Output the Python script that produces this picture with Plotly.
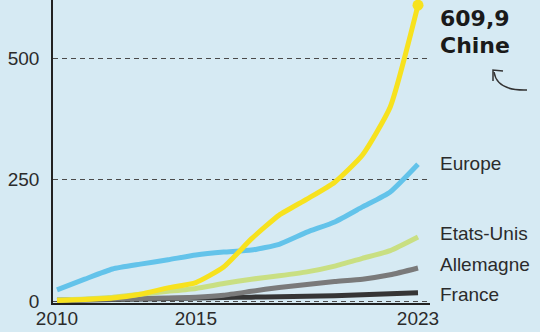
import plotly.graph_objects as go

years = list(range(2010, 2024))
chine = [1, 3, 6, 14, 27, 38, 70, 128, 177, 210, 245, 301, 400, 609.9]
europe = [23, 45, 66, 76, 85, 95, 101, 105, 117, 142, 163, 194, 225, 282]
etats_unis = [2, 4, 8, 14, 20, 26, 36, 45, 52, 60, 72, 88, 104, 132]
allemagne = [2, 3, 4, 5, 6, 8, 12, 20, 28, 34, 40, 45, 54, 68]
france = [1, 2, 3, 4, 5, 6, 7, 8, 9, 10, 11, 13, 15, 17]

series = [
    ("France", france, "#353535"),
    ("Allemagne", allemagne, "#7a7a7a"),
    ("Etats-Unis", etats_unis, "#c9df82"),
    ("Europe", europe, "#63c3ea"),
    ("Chine", chine, "#f7e21e"),
]
# label vertical positions in pixels (from top)
label_py = {"Europe": 163, "Etats-Unis": 233, "Allemagne": 264, "France": 294}

BG = "#d6eaf3"
TXT = "#2b2b2b"
FONT = "Liberation Sans"

L, R, T, B = 53, 110, 0, 29
PW, PH = 540 - L - R, 332 - T - B

def px(xp):
    return (xp - L) / PW

def py(yp):
    return (332 - B - yp) / PH

fig = go.Figure()
for name, vals, col in series:
    fig.add_trace(go.Scatter(x=years, y=vals, mode="lines", name=name,
                             line=dict(color=col, width=5, shape="spline", smoothing=0.5),
                             cliponaxis=False, hoverinfo="skip"))
fig.add_trace(go.Scatter(x=[years[-1]], y=[chine[-1]], mode="markers",
                         marker=dict(color="#f7e21e", size=11), cliponaxis=False,
                         hoverinfo="skip"))

for name, yp in label_py.items():
    fig.add_annotation(x=px(438), y=py(yp), xref="paper", yref="paper", text=name,
                       showarrow=False, xanchor="left", yanchor="middle",
                       font=dict(family=FONT, size=19, color=TXT))
fig.add_annotation(x=px(438), y=py(19), xref="paper", yref="paper", text="<b>609,9</b>",
                   showarrow=False, xanchor="left", yanchor="middle",
                   font=dict(family="DejaVu Sans", size=22, color="#1a1a1a"))
fig.add_annotation(x=px(438), y=py(45), xref="paper", yref="paper", text="<b>Chine</b>",
                   showarrow=False, xanchor="left", yanchor="middle",
                   font=dict(family="DejaVu Sans", size=22, color="#1a1a1a"))

fig.add_shape(type="path", xref="paper", yref="paper",
              path=f"M {px(494)},{py(72)} Q {px(497)},{py(91)} {px(527)},{py(90)}",
              line=dict(color="#333333", width=1.5))
fig.add_shape(type="path", xref="paper", yref="paper",
              path=f"M {px(493)},{py(81)} L {px(493)},{py(70)} L {px(503)},{py(71)}",
              line=dict(color="#333333", width=1.5))

fig.update_layout(
    width=540, height=332,
    margin=dict(l=L, r=R, t=T, b=B, autoexpand=False),
    paper_bgcolor=BG, plot_bgcolor=BG,
    showlegend=False,
    font=dict(family=FONT, color=TXT, size=19),
    xaxis=dict(range=[2009.856, 2023.432], tickvals=[2010, 2015, 2023],
               showgrid=False, zeroline=False, showline=True, linecolor="#222222",
               linewidth=1.5, ticks="", ticklabelstandoff=-3,
               tickfont=dict(size=19, color=TXT)),
    yaxis=dict(range=[-4.1, 620.6], tickvals=[0, 250, 500],
               showgrid=True, gridcolor="#4a4a4a", griddash="5px,4px", gridwidth=1.3,
               zeroline=False, showline=True, linecolor="#222222", linewidth=1.5,
               ticks="", ticklabelstandoff=8, tickfont=dict(size=19, color=TXT)),
)

fig.write_html("out.html", config={"displayModeBar": False},
               post_script="document.body.style.margin='0px';document.body.style.background='#d6eaf3';")
